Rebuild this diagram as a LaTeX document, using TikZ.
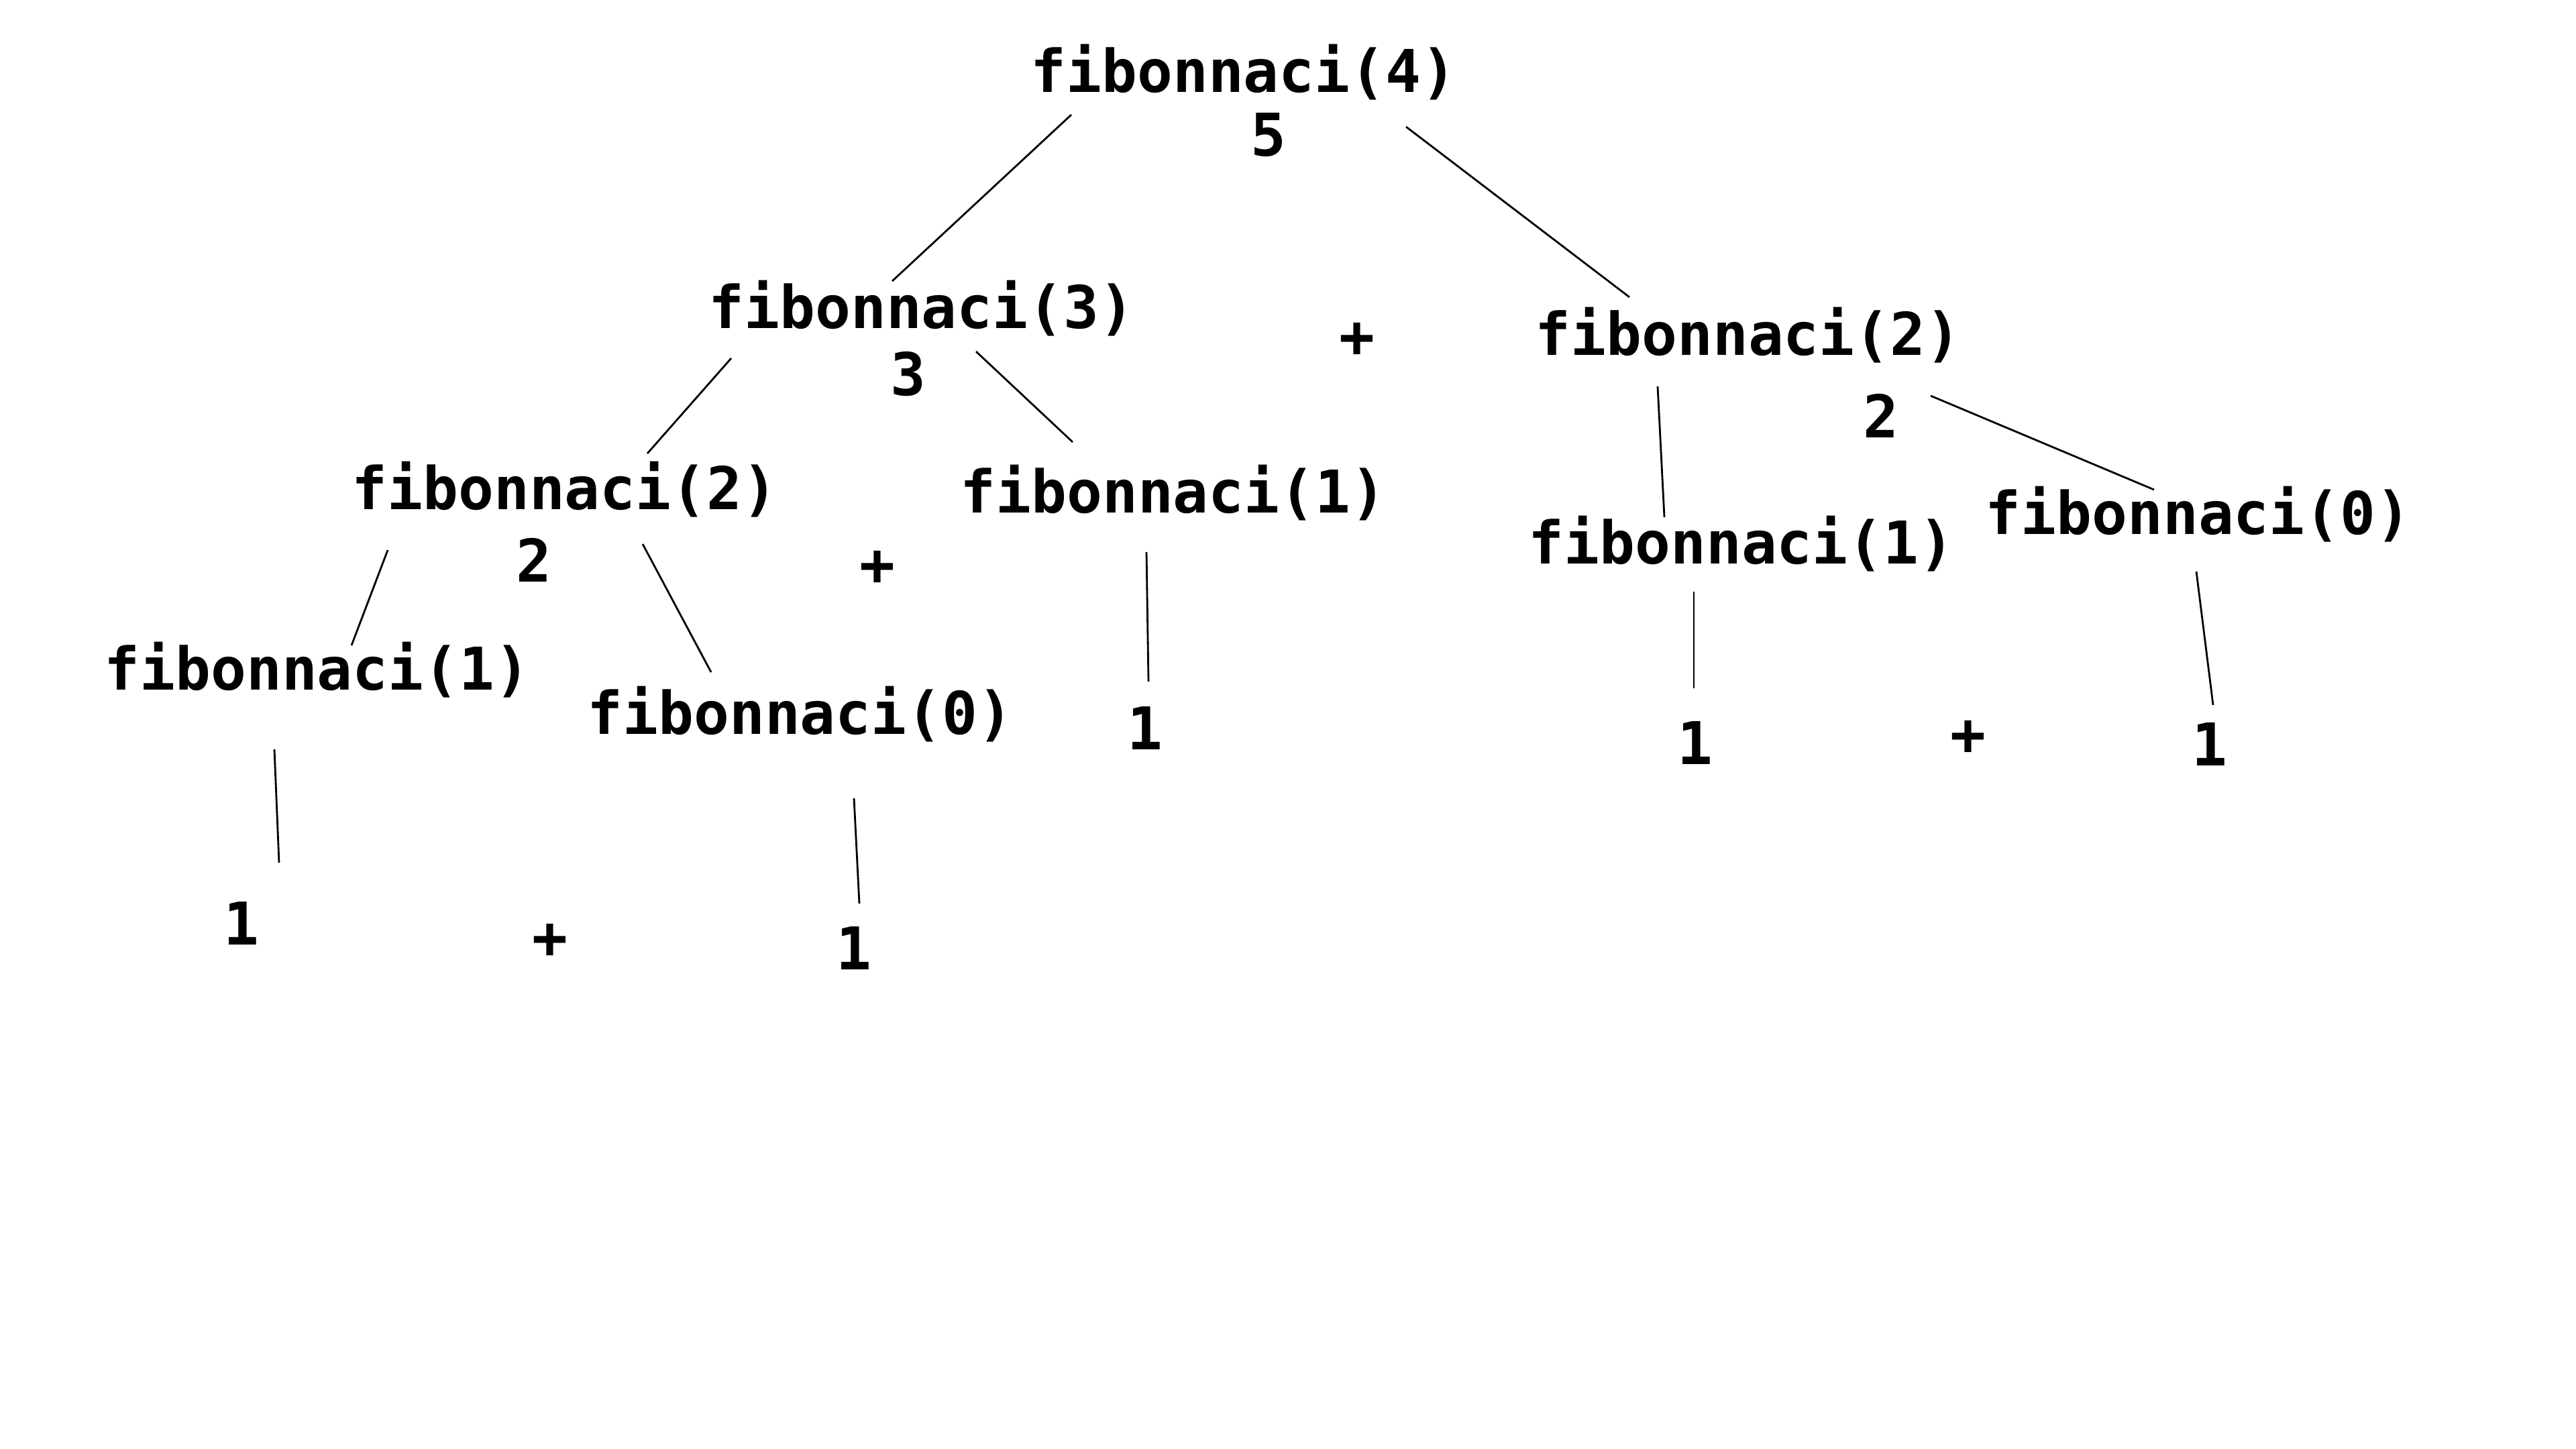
\documentclass[tikz,border=0pt]{standalone}
\usepackage{fontspec}
\setmonofont{DejaVu Sans Mono}
\tikzset{
  call/.style={font=\fontsize{25}{30}\selectfont\ttfamily\bfseries, inner sep=0pt},
  edge/.style={line width=0.8pt}
}
\begin{document}
\begin{tikzpicture}
      \useasboundingbox (0,0) rectangle (38.4,-21.6);
      % calls and results
      \node[call] (f4) at (18.54,-1.08) {fibonnaci(4)};
      \node[call] (v5) at (18.91,-2.01) {5};
      \node[call] (f3) at (13.74,-4.60) {fibonnaci(3)};
      \node[call] (v3) at (13.54,-5.58) {3};
      \node[call] (p1) at (20.23,-5.07) {+};
      \node[call] (f2r) at (26.06,-5.00) {fibonnaci(2)};
      \node[call] (v2r) at (28.04,-6.20) {2};
      \node[call] (f2l) at (8.42,-7.30) {fibonnaci(2)};
      \node[call] (v2l) at (7.96,-8.35) {2};
      \node[call] (p2) at (13.08,-8.47) {+};
      \node[call] (f1m) at (17.49,-7.35) {fibonnaci(1)};
      \node[call] (f1r) at (25.96,-8.11) {fibonnaci(1)};
      \node[call] (f0r) at (32.77,-7.67) {fibonnaci(0)};
      \node[call] (f1l) at (4.73,-9.99) {fibonnaci(1)};
      \node[call] (f0l) at (11.93,-10.65) {fibonnaci(0)};
      \node[call] (o1) at (17.07,-10.85) {1};
      \node[call] (o2) at (25.27,-11.07) {1};
      \node[call] (p3) at (29.34,-11.00) {+};
      \node[call] (o3) at (32.94,-11.09) {1};
      \node[call] (o4) at (3.60,-13.76) {1};
      \node[call] (p4) at (8.20,-14.03) {+};
      \node[call] (o5) at (12.73,-14.13) {1};
      % line ends
      \coordinate (a1) at (15.97,-1.71);  \coordinate (b1) at (13.30,-4.19);
      \coordinate (a2) at (20.96,-1.89);  \coordinate (b2) at (24.29,-4.43);
      \coordinate (a3) at (10.90,-5.34);  \coordinate (b3) at (9.65,-6.76);
      \coordinate (a4) at (14.55,-5.24);  \coordinate (b4) at (15.99,-6.59);
      \coordinate (a5) at (5.78,-8.20);   \coordinate (b5) at (5.24,-9.62);
      \coordinate (a6) at (9.58,-8.11);   \coordinate (b6) at (10.60,-10.02);
      \coordinate (a7) at (24.71,-5.76);  \coordinate (b7) at (24.81,-7.71);
      \coordinate (a8) at (28.78,-5.90);  \coordinate (b8) at (32.11,-7.30);
      \coordinate (a9) at (4.09,-11.17);  \coordinate (b9) at (4.16,-12.86);
      \coordinate (a10) at (12.73,-11.90); \coordinate (b10) at (12.81,-13.47);
      \coordinate (a11) at (17.09,-8.23); \coordinate (b11) at (17.12,-10.16);
      \coordinate (a12) at (25.25,-8.82); \coordinate (b12) at (25.25,-10.26);
      \coordinate (a13) at (32.74,-8.52); \coordinate (b13) at (32.99,-10.51);
      \foreach \i in {1,...,13}
        \draw[edge] (a\i) -- (b\i);
\end{tikzpicture}
\end{document}
